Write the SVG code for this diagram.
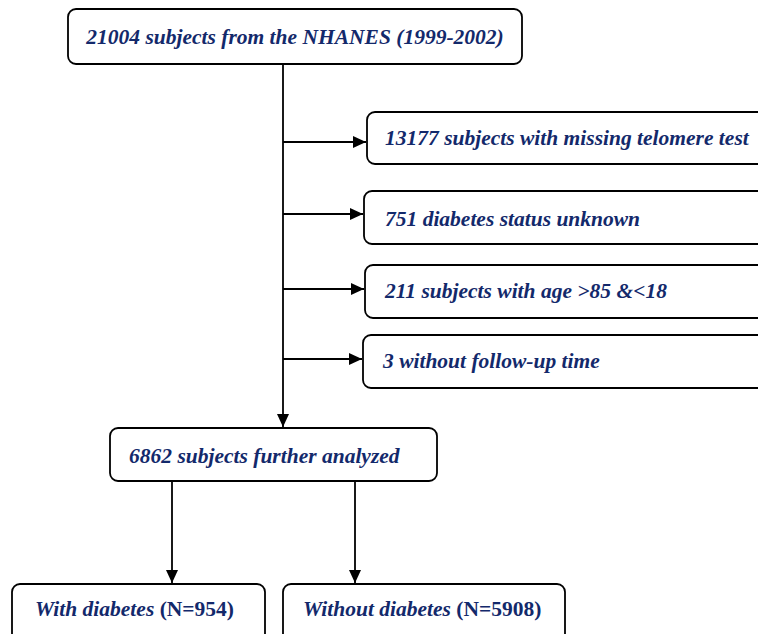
<svg xmlns="http://www.w3.org/2000/svg" width="758" height="634" viewBox="0 0 758 634">
<style>
.box{fill:#fff;stroke:#000;stroke-width:1.8}
.t{font-family:"Liberation Serif","Times New Roman",serif;font-weight:bold;font-style:italic;font-size:21.5px;fill:#13296b}
.n{font-style:normal}
.ln{stroke:#000;stroke-width:1.8;fill:none}
</style>
<defs>
<marker id="ah" markerWidth="13" markerHeight="12" refX="13" refY="6" orient="auto" markerUnits="userSpaceOnUse">
<path d="M0,0 L13,6 L0,12 Z" fill="#000"/>
</marker>
</defs>
<g id="top"><rect class="box" x="68" y="9" width="454" height="55" rx="8"/><text class="t" x="295" y="44" text-anchor="middle">21004 subjects from the NHANES (1999-2002)</text></g>
<g id="ex1"><rect class="box" x="367" y="112" width="410" height="52" rx="8"/><text class="t" x="385" y="145">13177 subjects with missing telomere test</text></g>
<g id="ex2"><rect class="box" x="364" y="191" width="410" height="53" rx="8"/><text class="t" x="385" y="226">751 diabetes status unknown</text></g>
<g id="ex3"><rect class="box" x="365" y="265" width="410" height="53" rx="8"/><text class="t" x="385" y="298">211 subjects with age &gt;85 &amp;&lt;18</text></g>
<g id="ex4"><rect class="box" x="363" y="335" width="410" height="53" rx="8"/><text class="t" x="383" y="368">3 without follow-up time</text></g>
<g id="mid"><rect class="box" x="110" y="428" width="327" height="53" rx="8"/><text class="t" x="129" y="463">6862 subjects further analyzed</text></g>
<g id="with"><rect class="box" x="12" y="584" width="253" height="70" rx="8"/><text class="t" x="35" y="616">With diabetes <tspan class="n">(N=954)</tspan></text></g>
<g id="without"><rect class="box" x="283" y="584" width="282" height="70" rx="8"/><text class="t" x="303" y="616">Without diabetes <tspan class="n">(N=5908)</tspan></text></g>
<g id="connectors">
<path class="ln" d="M283,64 V427" marker-end="url(#ah)"/>
<path class="ln" d="M283,142 H366" marker-end="url(#ah)"/>
<path class="ln" d="M283,214 H363" marker-end="url(#ah)"/>
<path class="ln" d="M283,289 H364" marker-end="url(#ah)"/>
<path class="ln" d="M283,359 H362" marker-end="url(#ah)"/>
<path class="ln" d="M172,481 V583" marker-end="url(#ah)"/>
<path class="ln" d="M355,481 V583" marker-end="url(#ah)"/>
</g>
</svg>
